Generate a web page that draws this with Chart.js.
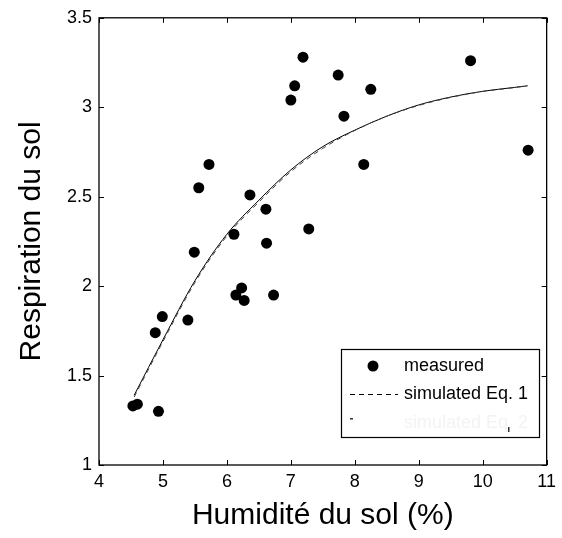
<!DOCTYPE html>
<html>
<head>
<meta charset="utf-8">
<script src="https://cdn.jsdelivr.net/npm/chart.js@4"></script>
<style>
html,body{margin:0;padding:0;background:#fff;}
#wrap{width:562px;height:538px;}
</style>
</head>
<body>
<div id="wrap"><canvas id="c" width="562" height="538"></canvas></div>
<script>
// ---- data ----
const measuredX = [4.53, 4.60, 4.93, 4.88, 4.99, 5.39, 5.49, 5.56, 5.72, 6.11, 6.14, 6.23, 6.27, 6.36, 6.61, 6.62, 6.73, 7.00, 7.06, 7.19, 7.28, 7.74, 7.83, 8.14, 8.25, 9.81, 10.71];
const measuredY = [1.33, 1.34, 1.30, 1.74, 1.83, 1.81, 2.19, 2.55, 2.68, 2.29, 1.95, 1.99, 1.92, 2.51, 2.43, 2.24, 1.95, 3.04, 3.12, 3.28, 2.32, 3.18, 2.95, 2.68, 3.10, 3.26, 2.76];
const curveX   = [4.55, 5.0, 5.5, 6.0, 6.5, 7.0, 7.5, 8.0, 8.5, 9.0, 9.5, 10.0, 10.5, 10.7];
const simEq1Y  = [1.38, 1.69, 2.02, 2.28, 2.47, 2.64, 2.77, 2.87, 2.95, 3.01, 3.055, 3.088, 3.11, 3.12];
const simEq2Y  = [1.39, 1.70, 2.03, 2.29, 2.48, 2.65, 2.78, 2.872, 2.95, 3.013, 3.057, 3.089, 3.111, 3.12];
const xTickLabels = ['4', '5', '6', '7', '8', '9', '10', '11'];
const yTickLabels = ['1', '1.5', '2', '2.5', '3', '3.5'];
const xTitle = 'Humidité du sol (%)';
const yTitle = 'Respiration du sol';
const legendLabels = ['measured', 'simulated Eq. 1', 'simulated Eq. 2'];

const xMin = Number(xTickLabels[0]), xMax = Number(xTickLabels[xTickLabels.length - 1]);
const yMin = Number(yTickLabels[0]), yMax = Number(yTickLabels[yTickLabels.length - 1]);
const FONT = "'Liberation Sans', Arial, sans-serif";

const framePlugin = {
  id: 'frame',
  afterDraw(chart) {
    const ctx = chart.ctx;
    const a = chart.chartArea;
    const xs = chart.scales.x, ys = chart.scales.y;
    ctx.save();
    ctx.strokeStyle = '#000';
    ctx.lineWidth = 1.3;
    ctx.strokeRect(a.left, a.top, a.right - a.left, a.bottom - a.top);
    ctx.lineWidth = 1;
    const tl = 5;
    ctx.beginPath();
    xTickLabels.forEach(v => {
      const px = Math.round(xs.getPixelForValue(Number(v))) + 0.5;
      ctx.moveTo(px, a.bottom); ctx.lineTo(px, a.bottom - tl);
      ctx.moveTo(px, a.top); ctx.lineTo(px, a.top + tl);
    });
    yTickLabels.forEach(v => {
      const py = Math.round(ys.getPixelForValue(Number(v))) + 0.5;
      ctx.moveTo(a.left, py); ctx.lineTo(a.left + tl, py);
      ctx.moveTo(a.right, py); ctx.lineTo(a.right - tl, py);
    });
    ctx.stroke();

    // legend box
    const L = 341, T = 349, R = 539, B = 437;
    ctx.fillStyle = '#fff';
    ctx.fillRect(L, T, R - L, B - T);
    ctx.lineWidth = 1.2;
    ctx.strokeRect(L + 0.5, T + 0.5, R - L, B - T);
    ctx.font = '18px ' + FONT;
    ctx.textBaseline = 'middle';
    ctx.textAlign = 'left';
    ctx.fillStyle = '#000';
    ctx.beginPath(); ctx.arc(373, 366, 5.5, 0, Math.PI * 2); ctx.fill();
    ctx.fillText(legendLabels[0], 404, 366);
    ctx.setLineDash([5, 4]);
    ctx.lineWidth = 1;
    ctx.beginPath(); ctx.moveTo(350, 394.5); ctx.lineTo(398, 394.5); ctx.stroke();
    ctx.setLineDash([]);
    ctx.fillText(legendLabels[1], 404, 394);
    ctx.fillStyle = '#f3f3f3';
    ctx.fillText(legendLabels[2], 404, 423);
    ctx.fillStyle = '#333';
    ctx.fillRect(350, 418, 3, 1.5);
    ctx.fillRect(508, 427, 1.5, 5);
    ctx.restore();
  }
};

new Chart(document.getElementById('c'), {
  type: 'scatter',
  data: {
    datasets: [
      {
        label: legendLabels[2],
        data: curveX.map((x, i) => ({x: x, y: simEq2Y[i]})),
        showLine: true,
        borderColor: '#000',
        borderWidth: 1,
        pointRadius: 0,
        cubicInterpolationMode: 'monotone',
        order: 3
      },
      {
        label: legendLabels[1],
        data: curveX.map((x, i) => ({x: x, y: simEq1Y[i]})),
        showLine: true,
        borderColor: '#444',
        borderWidth: 1,
        borderDash: [5, 4],
        pointRadius: 0,
        cubicInterpolationMode: 'monotone',
        order: 2
      },
      {
        label: legendLabels[0],
        data: measuredX.map((x, i) => ({x: x, y: measuredY[i]})),
        backgroundColor: '#000',
        borderColor: '#000',
        pointRadius: 5.5,
        pointBorderWidth: 0,
        order: 1
      }
    ]
  },
  options: {
    responsive: false,
    devicePixelRatio: 1,
    animation: false,
    events: [],
    layout: {padding: {left: 0, top: 15, right: 11, bottom: 0}},
    plugins: {legend: {display: false}, tooltip: {enabled: false}},
    scales: {
      x: {
        type: 'linear', min: xMin, max: xMax,
        afterFit(s) { s.height = 73; },
        grid: {display: false, drawTicks: false},
        border: {display: false},
        ticks: {
          stepSize: 1, padding: 6, color: '#000', maxRotation: 0,
          font: {family: FONT, size: 18},
          callback: (v) => { const i = xTickLabels.indexOf(String(v)); return i >= 0 ? xTickLabels[i] : ''; }
        },
        title: {display: true, text: xTitle, color: '#000', font: {family: FONT, size: 30}, padding: {top: 0, bottom: 4}}
      },
      y: {
        type: 'linear', min: yMin, max: yMax,
        afterFit(s) { s.width = 99; },
        grid: {display: false, drawTicks: false},
        border: {display: false},
        ticks: {
          stepSize: 0.5, padding: 7, color: '#000',
          font: {family: FONT, size: 18},
          callback: (v) => { const i = yTickLabels.indexOf(String(v)); return i >= 0 ? yTickLabels[i] : ''; }
        },
        title: {display: true, text: yTitle, color: '#000', font: {family: FONT, size: 30}, padding: {top: 14, bottom: 0}}
      }
    }
  },
  plugins: [framePlugin]
});
</script>
</body>
</html>
